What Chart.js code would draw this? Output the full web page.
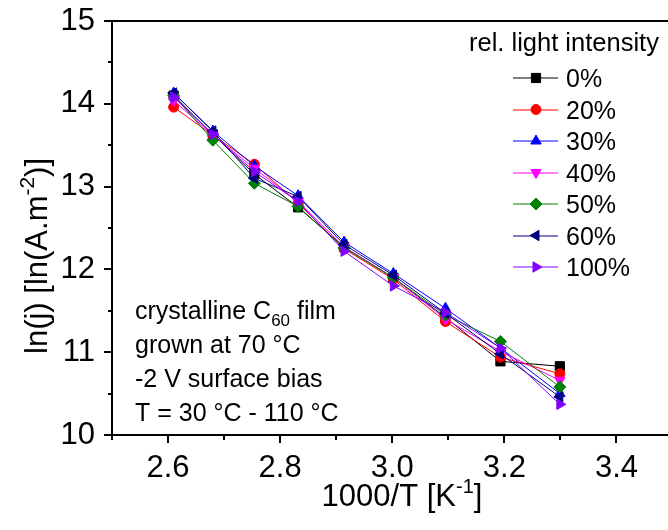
<!DOCTYPE html>
<html>
<head>
<meta charset="utf-8">
<script src="https://cdn.jsdelivr.net/npm/chart.js@4"></script>
<style>
  html, body { margin: 0; padding: 0; overflow: hidden; background: #fff; }
  canvas { display: block; }
</style>
</head>
<body>
<canvas id="c" width="680" height="530"></canvas>
<script>
// 1000/T for T = 110, 100, 90, 80, 70, 60, 50, 40, 30 °C
const invT = [2.610, 2.680, 2.754, 2.832, 2.914, 3.002, 3.095, 3.193, 3.299];

// ln(j) for each relative light intensity
const ln0   = [14.10, 13.63, 13.15, 12.75, 12.27, 11.90, 11.42, 10.89, 10.83];
const ln20  = [13.96, 13.62, 13.27, 12.80, 12.25, 11.88, 11.37, 10.94, 10.74];
const ln30  = [14.13, 13.67, 13.25, 12.89, 12.33, 11.95, 11.53, 11.05, 10.50];
const ln40  = [14.04, 13.62, 13.22, 12.82, 12.27, 11.90, 11.40, 11.01, 10.66];
const ln50  = [14.10, 13.56, 13.04, 12.76, 12.26, 11.90, 11.45, 11.13, 10.58];
const ln60  = [14.13, 13.67, 13.10, 12.88, 12.30, 11.93, 11.47, 10.98, 10.46];
const ln100 = [14.08, 13.63, 13.18, 12.82, 12.22, 11.80, 11.48, 11.05, 10.37];

const seriesLabels = ['0%', '20%', '30%', '40%', '50%', '60%', '100%'];
const seriesValues = [ln0, ln20, ln30, ln40, ln50, ln60, ln100];

// axis ranges and tick steps
const xMin = 2.5, xMax = 3.5, xStep = 0.1;
const yMin = 10, yMax = 15, yStep = 0.5;

// marker styles per series
const colors     = ['#000000', '#ff0000', '#0000ff', '#ff00ff', '#008000', '#000080', '#8000ff'];
const shapes     = ['rect', 'circle', 'triangle', 'triangle', 'rectRot', 'triangle', 'triangle'];
const rotations  = [0, 0, 0, 180, 0, 270, 90];
const radii      = [6.5, 5, 6, 6, 6, 6, 6];

const FONT = '"Liberation Sans", Arial, Helvetica, sans-serif';

const datasets = seriesValues.map((vals, i) => ({
  label: seriesLabels[i],
  data: vals.map((v, k) => ({ x: invT[k], y: v })),
  borderColor: colors[i],
  backgroundColor: colors[i],
  borderWidth: 1,
  pointStyle: shapes[i],
  rotation: rotations[i],
  pointRadius: radii[i],
  pointBorderWidth: 1,
  pointBackgroundColor: colors[i],
  pointBorderColor: colors[i],
  tension: 0,
  order: seriesValues.length - 1 - i
}));

// text runs with sub/superscripts
function drawRuns(ctx, runs, x, y, align) {
  let total = 0;
  runs.forEach(r => { ctx.font = r.size + 'px ' + FONT; r.w = ctx.measureText(r.t).width; total += r.w; });
  let cx = align === 'center' ? x - total / 2 : x;
  ctx.textAlign = 'left';
  ctx.textBaseline = 'alphabetic';
  runs.forEach(r => {
    ctx.font = r.size + 'px ' + FONT;
    ctx.fillText(r.t, cx, y + (r.dy || 0));
    cx += r.w;
  });
}

const decorPlugin = {
  id: 'decor',
  beforeDatasetsDraw(chart) {
    const ctx = chart.ctx;
    const a = chart.chartArea;
    const xs = chart.scales.x, ys = chart.scales.y;
    ctx.save();
    ctx.strokeStyle = '#000';
    ctx.lineWidth = 2;
    ctx.strokeRect(a.left, a.top, a.right - a.left, a.bottom - a.top);
    ctx.beginPath();
    xs.ticks.forEach(t => {
      const px = Math.round(xs.getPixelForValue(t.value));
      const len = t.label !== '' ? 8 : 5;
      ctx.moveTo(px, a.bottom);
      ctx.lineTo(px, a.bottom + len);
    });
    ys.ticks.forEach(t => {
      const py = Math.round(ys.getPixelForValue(t.value));
      const len = t.label !== '' ? 8 : 4;
      ctx.moveTo(a.left, py);
      ctx.lineTo(a.left - len, py);
    });
    ctx.stroke();
    ctx.restore();
  },
  afterDraw(chart) {
    const ctx = chart.ctx;
    ctx.save();
    ctx.fillStyle = '#000';

    // axis titles
    drawRuns(ctx, [
      { t: '1000/T [K', size: 31 },
      { t: '-1', size: 20, dy: -13 },
      { t: ']', size: 31 }
    ], 402, 506, 'center');

    ctx.save();
    ctx.translate(47, 354);
    ctx.rotate(-Math.PI / 2);
    drawRuns(ctx, [
      { t: 'ln(j) [ln(A.m', size: 31 },
      { t: '-2', size: 21, dy: -13 },
      { t: ')]', size: 31 }
    ], 0, 0, 'left');
    ctx.restore();

    // legend
    drawRuns(ctx, [{ t: 'rel. light intensity', size: 25.5 }], 469, 51, 'left');
    chart.data.datasets.forEach((ds, i) => {
      const yc = 78 + i * 31.5;
      ctx.strokeStyle = ds.borderColor;
      ctx.lineWidth = 1;
      ctx.beginPath();
      ctx.moveTo(513, Math.round(yc));
      ctx.lineTo(558, Math.round(yc));
      ctx.stroke();
      ctx.fillStyle = ds.pointBackgroundColor;
      ctx.strokeStyle = ds.pointBorderColor;
      Chart.helpers.drawPoint(ctx, {
        pointStyle: ds.pointStyle, rotation: ds.rotation,
        radius: ds.pointRadius, borderWidth: 1
      }, 536, yc);
      ctx.fillStyle = '#000';
      drawRuns(ctx, [{ t: ds.label, size: 25 }], 566, yc + 9, 'left');
    });

    // sample description
    drawRuns(ctx, [
      { t: 'crystalline C', size: 25 },
      { t: '60', size: 17, dy: 7 },
      { t: ' film', size: 25 }
    ], 135, 319, 'left');
    drawRuns(ctx, [{ t: 'grown at 70 °C', size: 25 }], 135, 353, 'left');
    drawRuns(ctx, [{ t: '-2 V surface bias', size: 25 }], 135, 387, 'left');
    drawRuns(ctx, [{ t: 'T = 30 °C - 110 °C', size: 25 }], 135, 421, 'left');
    ctx.restore();
  }
};

new Chart(document.getElementById('c'), {
  type: 'line',
  data: { datasets },
  options: {
    responsive: false,
    animation: false,
    devicePixelRatio: 1,
    layout: { padding: { top: 21, right: 6, left: 0, bottom: 0 } },
    plugins: { legend: { display: false }, tooltip: { enabled: false } },
    scales: {
      x: {
        type: 'linear', min: xMin, max: xMax,
        afterFit(s) { s.height = 95; },
        grid: { display: true, drawOnChartArea: false, drawTicks: true, tickLength: 8, color: 'rgba(0,0,0,0)' },
        border: { display: false },
        ticks: {
          stepSize: xStep, autoSkip: false, maxRotation: 0, minRotation: 0,
          padding: 7, color: '#000', font: { family: FONT, size: 31 },
          callback: v => (Math.round(v * 10) % 2 === 0 ? v.toFixed(1) : '')
        }
      },
      y: {
        type: 'linear', min: yMin, max: yMax,
        afterFit(s) { s.width = 112; },
        grid: { display: true, drawOnChartArea: false, drawTicks: true, tickLength: 8, color: 'rgba(0,0,0,0)' },
        border: { display: false },
        ticks: {
          stepSize: yStep, autoSkip: false,
          padding: 9, color: '#000', font: { family: FONT, size: 31, lineHeight: 0.6 },
          callback: v => (Math.abs(v - Math.round(v)) < 1e-6 ? String(Math.round(v)) : '')
        }
      }
    }
  },
  plugins: [decorPlugin]
});
</script>
</body>
</html>
